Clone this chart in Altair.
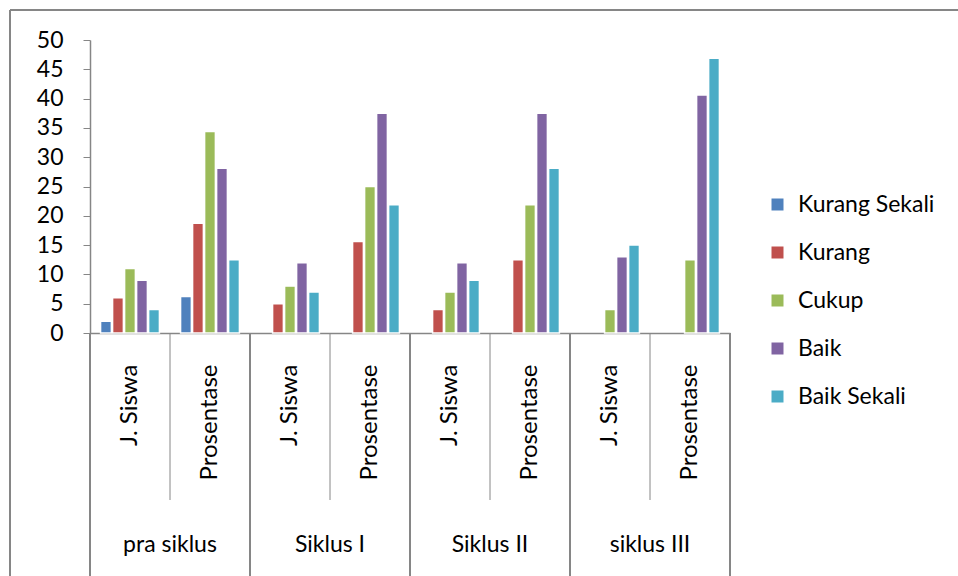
import altair as alt
import pandas as pd

groups = ["pra siklus", "Siklus I", "Siklus II", "siklus III"]
subs = ["J. Siswa", "Prosentase"]
series = ["Kurang Sekali", "Kurang", "Cukup", "Baik", "Baik Sekali"]
colors = ["#4F81BD", "#C0504D", "#9BBB59", "#8064A2", "#4BACC6"]

kurang_sekali = [2, 6.25, 0, 0, 0, 0, 0, 0]
kurang = [6, 18.75, 5, 15.625, 4, 12.5, 0, 0]
cukup = [11, 34.375, 8, 25, 7, 21.875, 4, 12.5]
baik = [9, 28.125, 12, 37.5, 12, 37.5, 13, 40.625]
baik_sekali = [4, 12.5, 7, 21.875, 9, 28.125, 15, 46.875]

y_ticks = list(range(0, 55, 5))

FONT = "Lato"
AX = "#868686"
W, H = 640, 293
LEFT, TOP = 90, 40
TOTAL_W, TOTAL_H = 958, 576

keys = [f"{g}|{s}" for g in groups for s in subs]
vals = [kurang_sekali, kurang, cukup, baik, baik_sekali]
rows = []
for sname, arr in zip(series, vals):
    for k, v in zip(keys, arr):
        if v > 0:
            rows.append({"key": k, "series": sname, "value": v})
df = pd.DataFrame(rows)

xscale = alt.Scale(domain=keys, paddingInner=0, paddingOuter=0)

bars = alt.Chart(df).mark_bar(stroke="white", strokeWidth=1.5).encode(
    x=alt.X("key:N", scale=xscale, sort=keys,
            axis=alt.Axis(title=None, labelExpr="split(datum.label,'|')[1]",
                          labelAngle=270, labelAlign="right", labelBaseline="middle",
                          ticks=False, labelPadding=31, labelFont=FONT,
                          labelFontSize=24, labelColor="#000000",
                          domainColor=AX, domainWidth=1.5)),
    xOffset=alt.XOffset("series:N", scale=alt.Scale(domain=series, paddingInner=0.1,
                                                    paddingOuter=0.88)),
    y=alt.Y("value:Q", scale=alt.Scale(domain=[0, 50], nice=False),
            axis=alt.Axis(title=None, values=y_ticks, grid=False, tickSize=7,
                          tickColor=AX, domainColor=AX, domainWidth=1.5,
                          labelPadding=20, labelFont=FONT, labelFontSize=23,
                          labelColor="#000000")),
    color=alt.Color("series:N", scale=alt.Scale(domain=series, range=colors),
                    legend=alt.Legend(title=None, orient="none", legendX=676, legendY=153,
                                      symbolType="square", symbolSize=144,
                                      symbolStrokeWidth=0, labelFont=FONT,
                                      labelFontSize=23, labelColor="#000000",
                                      rowPadding=24, labelOffset=9)),
)

gdf = pd.DataFrame({"key": [f"{g}|{subs[1]}" for g in groups], "label": groups})
glabels = alt.Chart(gdf).mark_text(font=FONT, fontSize=23, color="#000000",
                                   baseline="middle", align="center").encode(
    x=alt.X("key:N", scale=xscale, sort=keys, bandPosition=0),
    y=alt.value(505),
    text="label:N",
)

# short separators between J. Siswa and Prosentase
short_rules = alt.Chart(gdf).mark_rule(color=AX, strokeWidth=1).encode(
    x=alt.X("key:N", scale=xscale, sort=keys, bandPosition=0),
    y=alt.value(H), y2=alt.value(460),
)

bdf = pd.DataFrame({"key": [f"{g}|{subs[0]}" for g in groups[1:]]})
long_rules = alt.Chart(bdf).mark_rule(color=AX, strokeWidth=2).encode(
    x=alt.X("key:N", scale=xscale, sort=keys, bandPosition=0),
    y=alt.value(H), y2=alt.value(TOTAL_H - TOP),
)

one = pd.DataFrame({"a": [0]})
edge_rules = [
    alt.Chart(one).mark_rule(color=AX, strokeWidth=2).encode(
        x=alt.value(0), y=alt.value(H), y2=alt.value(TOTAL_H - TOP)),
    alt.Chart(one).mark_rule(color=AX, strokeWidth=2).encode(
        x=alt.value(W), y=alt.value(H), y2=alt.value(TOTAL_H - TOP)),
    alt.Chart(one).mark_rule(color=AX, strokeWidth=2).encode(
        x=alt.value(-80), y=alt.value(-30), y2=alt.value(TOTAL_H - TOP)),
    alt.Chart(one).mark_rule(color=AX, strokeWidth=2).encode(
        x=alt.value(-80), x2=alt.value(TOTAL_W - LEFT), y=alt.value(-30)),
]

chart = alt.layer(bars, short_rules, long_rules, *edge_rules, glabels).properties(
    width=W, height=H,
    autosize=alt.AutoSizeParams(type="none"),
    padding={"left": LEFT, "top": TOP, "right": TOTAL_W - LEFT - W, "bottom": TOTAL_H - TOP - H},
    background="white",
).configure_view(stroke=None)

chart.save("out.html", embed_options={"renderer": "svg", "actions": False})
